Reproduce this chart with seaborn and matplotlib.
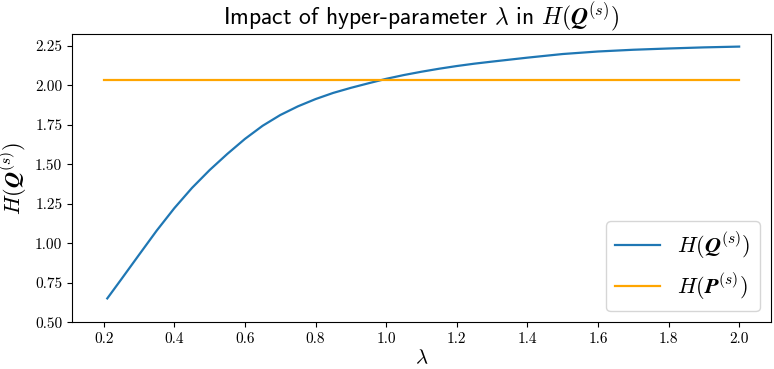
import matplotlib
matplotlib.use("Agg")
import matplotlib.pyplot as plt
import seaborn as sns
import pandas as pd

# Data
lam = [0.21, 0.25, 0.30, 0.35, 0.40, 0.45, 0.50, 0.55, 0.60, 0.65, 0.70, 0.75,
       0.80, 0.85, 0.90, 0.95, 1.00, 1.05, 1.10, 1.15, 1.20, 1.25, 1.30, 1.40,
       1.50, 1.60, 1.70, 1.80, 1.90, 2.00]
h_q = [0.651, 0.773, 0.927, 1.080, 1.222, 1.350, 1.463, 1.565, 1.660, 1.743,
       1.811, 1.866, 1.912, 1.951, 1.983, 2.012, 2.040, 2.064, 2.085, 2.104,
       2.121, 2.136, 2.149, 2.174, 2.197, 2.213, 2.224, 2.232, 2.239, 2.244]
lam_p = [0.2, 2.0]
h_p = [2.034, 2.034]

plt.rcParams["mathtext.fontset"] = "cm"
plt.rcParams["font.family"] = ["cmr10", "DejaVu Sans"]
plt.rcParams["axes.formatter.use_mathtext"] = True
plt.rcParams["axes.unicode_minus"] = False

fig = plt.figure(figsize=(7.74, 3.69), dpi=100)
ax = fig.add_axes([0.093, 0.1266, 0.903, 0.7814])

df_q = pd.DataFrame({"lam": lam, "h": h_q})
df_p = pd.DataFrame({"lam": lam_p, "h": h_p})
sns.lineplot(data=df_q, x="lam", y="h", ax=ax, color="#1f77b4", lw=1.6,
             label=r"$H(\mathbfit{Q}^{(s)})$")
sns.lineplot(data=df_p, x="lam", y="h", ax=ax, color="orange", lw=1.6,
             label=r"$H(\mathbfit{P}^{(s)})$")

ax.set_ylim(0.5, 2.324)
ax.set_yticks([0.5, 0.75, 1.0, 1.25, 1.5, 1.75, 2.0, 2.25])
ax.set_yticklabels(["0.50", "0.75", "1.00", "1.25", "1.50", "1.75", "2.00", "2.25"])
ax.set_xticks([0.2, 0.4, 0.6, 0.8, 1.0, 1.2, 1.4, 1.6, 1.8, 2.0])
ax.set_xticklabels(["0.2", "0.4", "0.6", "0.8", "1.0", "1.2", "1.4", "1.6", "1.8", "2.0"])
ax.tick_params(labelsize=11)

ax.set_xlabel(r"$\lambda$", fontsize=15, labelpad=2)
ax.set_ylabel(r"$H(\mathbfit{Q}^{(s)})$", fontsize=16)
ax.set_title(r"Impact of hyper-parameter $\lambda$ in $H(\mathbfit{Q}^{(s)})$",
             fontsize=17, family=["cmss10", "DejaVu Sans"])
ax.legend(loc="lower right", fontsize=16)

fig.savefig("out.png", dpi=100)
